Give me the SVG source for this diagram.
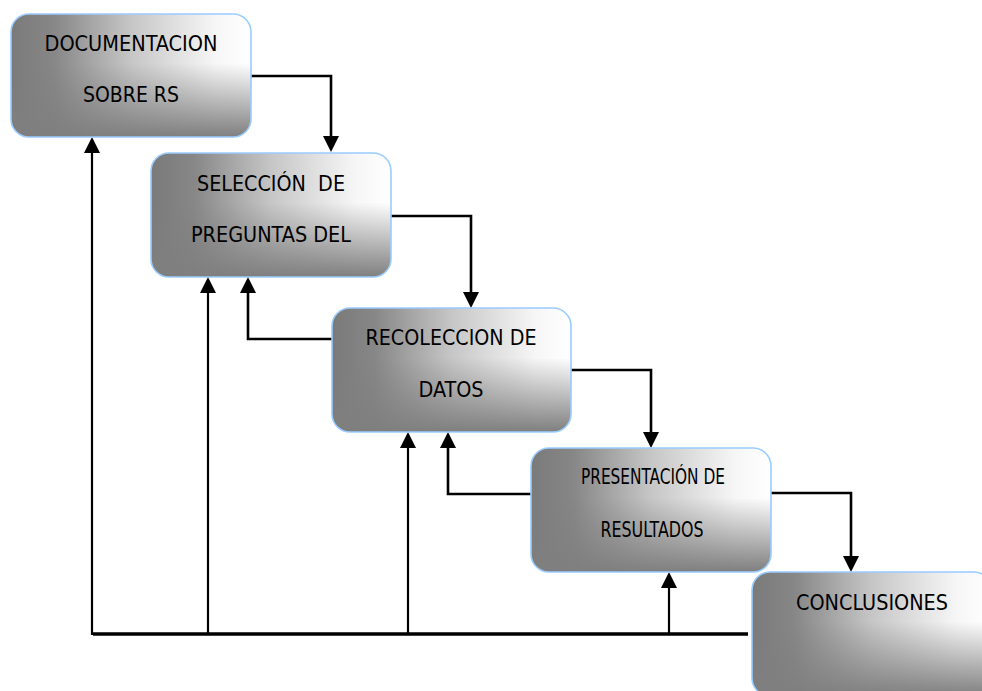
<svg xmlns="http://www.w3.org/2000/svg" width="982" height="691" viewBox="0 0 982 691">
<defs>
<linearGradient id="gh" x1="0" y1="0" x2="1" y2="0">
<stop offset="0" stop-color="#7a7a7a"/>
<stop offset="0.18" stop-color="#878787"/>
<stop offset="0.5" stop-color="#c6c6c6"/>
<stop offset="0.85" stop-color="#f6f6f6"/>
<stop offset="1" stop-color="#ffffff"/>
</linearGradient>
<linearGradient id="gv" x1="0" y1="0" x2="0" y2="1">
<stop offset="0" stop-color="#7f7f7f" stop-opacity="0"/>
<stop offset="0.4" stop-color="#7f7f7f" stop-opacity="0"/>
<stop offset="1" stop-color="#7f7f7f" stop-opacity="1"/>
</linearGradient>
<marker id="ah" viewBox="0 0 16 16" refX="8" refY="8" markerWidth="16" markerHeight="16" markerUnits="userSpaceOnUse" orient="auto">
<path d="M0,0 L16,8 L0,16 z" fill="#000"/>
</marker>
<style>
.base{fill:url(#gh);}
.shade{fill:url(#gv);stroke:#99ccff;stroke-width:1.6;}
.lbl{font-family:"DejaVu Sans Condensed","DejaVu Sans",Verdana,sans-serif;font-stretch:condensed;font-size:21px;fill:#000;text-anchor:middle;}
.c{fill:none;stroke:#000;stroke-width:2.6;}
.thin{fill:none;stroke:#000;stroke-width:2.2;}
.bus{fill:none;stroke:#000;stroke-width:3.4;}
</style>
</defs>
<g id="connectors">
<path class="c" d="M251,76 H331 V144" marker-end="url(#ah)"/>
<path class="c" d="M391,216 H471 V300" marker-end="url(#ah)"/>
<path class="c" d="M571,370 H651 V440" marker-end="url(#ah)"/>
<path class="c" d="M771,493 H851 V564" marker-end="url(#ah)"/>
<path class="c" d="M332,339 H248 V285" marker-end="url(#ah)"/>
<path class="c" d="M531,494 H448 V440" marker-end="url(#ah)"/>
<path class="bus" d="M93,634 H748"/>
<path class="thin" d="M92,635 V145" marker-end="url(#ah)"/>
<path class="thin" d="M208,634 V285" marker-end="url(#ah)"/>
<path class="thin" d="M408,634 V440" marker-end="url(#ah)"/>
<path class="thin" d="M669,634 V580" marker-end="url(#ah)"/>
</g>
<g id="n1">
<rect class="base" x="11" y="14" width="240" height="123" rx="18"/>
<rect class="shade" x="11" y="14" width="240" height="123" rx="18"/>
<text class="lbl" x="131" y="51" textLength="173" lengthAdjust="spacingAndGlyphs">DOCUMENTACION</text>
<text class="lbl" x="131" y="102" textLength="96" lengthAdjust="spacingAndGlyphs">SOBRE RS</text>
</g>
<g id="n2">
<rect class="base" x="151" y="153" width="240" height="124" rx="18"/>
<rect class="shade" x="151" y="153" width="240" height="124" rx="18"/>
<text class="lbl" x="271" y="191" textLength="148" lengthAdjust="spacingAndGlyphs" xml:space="preserve">SELECCIÓN  DE</text>
<text class="lbl" x="271" y="242" textLength="160" lengthAdjust="spacingAndGlyphs">PREGUNTAS DEL</text>
</g>
<g id="n3">
<rect class="base" x="332" y="308" width="239" height="124" rx="18"/>
<rect class="shade" x="332" y="308" width="239" height="124" rx="18"/>
<text class="lbl" x="451" y="345" textLength="171" lengthAdjust="spacingAndGlyphs">RECOLECCION DE</text>
<text class="lbl" x="451" y="397" textLength="65" lengthAdjust="spacingAndGlyphs">DATOS</text>
</g>
<g id="n4">
<rect class="base" x="531" y="448" width="240" height="124" rx="18"/>
<rect class="shade" x="531" y="448" width="240" height="124" rx="18"/>
<text class="lbl" x="653" y="484" textLength="144" lengthAdjust="spacingAndGlyphs">PRESENTACIÓN DE</text>
<text class="lbl" x="652" y="537" textLength="103" lengthAdjust="spacingAndGlyphs">RESULTADOS</text>
</g>
<g id="n5">
<rect class="base" x="752" y="572" width="240" height="124" rx="18"/>
<rect class="shade" x="752" y="572" width="240" height="124" rx="18"/>
<text class="lbl" x="872" y="610" textLength="152" lengthAdjust="spacingAndGlyphs">CONCLUSIONES</text>
</g>
</svg>
